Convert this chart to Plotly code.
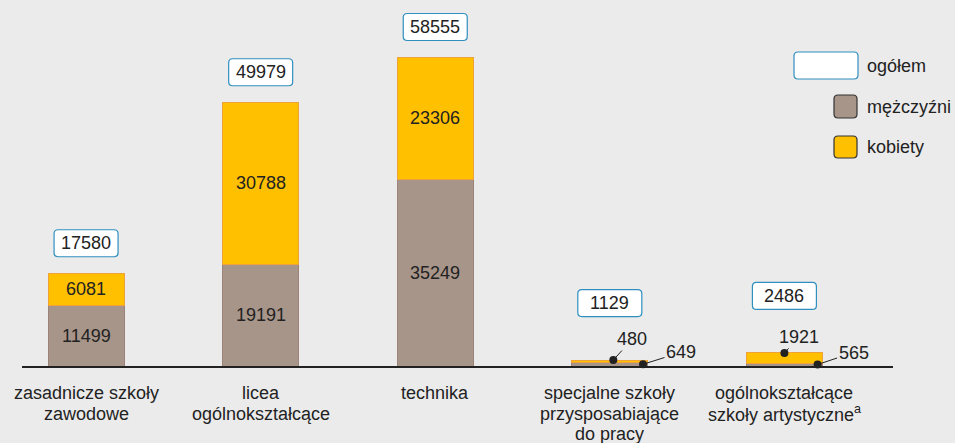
import plotly.graph_objects as go

categories = [
    "zasadnicze szkoły<br>zawodowe",
    "licea<br>ogólnokształcące",
    "technika",
    "specjalne szkoły<br>przysposabiające<br>do pracy",
    "ogólnokształcące<br>szkoły artystyczne<sup>a</sup>",
]
men = [11499, 19191, 35249, 649, 565]
women = [6081, 30788, 23306, 480, 1921]
totals = [17580, 49979, 58555, 1129, 2486]

# styling
FONT = "Liberation Sans, Arial, sans-serif"
TXT = "#222222"
GREY = "#a89589"
GREY_EDGE = "#9c8379"
YELLOW = "#ffc000"
YELLOW_EDGE = "#f0a23a"
BLUE = "#2f8fbf"
BG = "#ebebeb"

L, R, T, B = 22, 62, 10, 77
W, H = 955, 443
PW, PH = W - L - R, H - T - B

xs = list(range(len(categories)))
big = [t > 10000 for t in totals]

fig = go.Figure()
fig.add_trace(go.Bar(
    x=xs, y=men, name="mężczyźni", width=0.435,
    marker=dict(color=GREY, line=dict(color=GREY_EDGE, width=1)),
    hoverinfo="skip",
))
fig.add_trace(go.Bar(
    x=xs, y=women, name="kobiety", width=0.435,
    marker=dict(color=YELLOW, line=dict(color=YELLOW_EDGE, width=1)),
    hoverinfo="skip",
))


def rounded_px(x0, y0, x1, y1, r):
    return (f"M {x0+r},{y0} L {x1-r},{y0} Q {x1},{y0} {x1},{y0+r} "
            f"L {x1},{y1-r} Q {x1},{y1} {x1-r},{y1} L {x0+r},{y1} "
            f"Q {x0},{y1} {x0},{y1-r} L {x0},{y0+r} Q {x0},{y0} {x0+r},{y0} Z")


shapes = []
annotations = []

# value labels inside the large bars
for i in xs:
    if big[i]:
        annotations.append(dict(x=i, y=men[i] / 2, xref="x", yref="y", text=str(men[i]),
                                showarrow=False, font=dict(size=18, color=TXT, family=FONT)))
        annotations.append(dict(x=i, y=men[i] + women[i] / 2, xref="x", yref="y",
                                text=str(women[i]), showarrow=False,
                                font=dict(size=18, color=TXT, family=FONT)))

# total boxes
for i, t in enumerate(totals):
    off = 30 if big[i] else 57
    shapes.append(dict(
        type="path", xref="x", yref="y", xsizemode="pixel", ysizemode="pixel",
        xanchor=i, yanchor=t,
        path=rounded_px(-32, off - 13.5, 32, off + 13.5, 4),
        fillcolor="white", line=dict(color=BLUE, width=1.2), layer="above",
    ))
    annotations.append(dict(
        x=i, y=t, xref="x", yref="y", text=str(t), showarrow=False,
        yshift=off, font=dict(size=18, color=TXT, family=FONT),
    ))

# callouts for small bars
callouts = [
    # (category index, x offset in category units, y value, label, ax, ay)
    (3, 0.02, men[3] + women[3], women[3], 19, -21),
    (3, 0.19, men[3] * 0.5, men[3], 38, -12),
    (4, 0.0, men[4] + women[4], women[4], 15, -16),
    (4, 0.19, men[4] * 0.5, men[4], 36, -12),
]
for ci, dx, yv, lab, ax, ay in callouts:
    annotations.append(dict(
        x=ci + dx, y=yv, xref="x", yref="y", text=str(lab),
        showarrow=True, arrowhead=6, arrowsize=2.0, arrowwidth=1, arrowcolor=TXT,
        ax=ax, ay=ay, standoff=0, font=dict(size=18, color=TXT, family=FONT),
    ))

# category labels (one annotation per line for tighter line spacing)
for i, cat in enumerate(categories):
    for k, line in enumerate(cat.split("<br>")):
        annotations.append(dict(
            x=i, y=0, xref="x", yref="y", text=line, showarrow=False,
            yanchor="middle", yshift=-(27 + 20.5 * k),
            font=dict(size=18, color=TXT, family=FONT),
        ))


# custom legend (paper coords)
def px2paper(px, py):
    return (px - L) / PW, (T + PH - py) / PH


def rounded_paper(px0, py0, px1, py1, r):
    x0, y1 = px2paper(px0, py0)
    x1, y0 = px2paper(px1, py1)
    rx, ry = r / PW, r / PH
    return (f"M {x0+rx},{y0} L {x1-rx},{y0} Q {x1},{y0} {x1},{y0+ry} "
            f"L {x1},{y1-ry} Q {x1},{y1} {x1-rx},{y1} L {x0+rx},{y1} "
            f"Q {x0},{y1} {x0},{y1-ry} L {x0},{y0+ry} Q {x0},{y0} {x0+rx},{y0} Z")


legend_items = [
    ("ogółem", "white", BLUE, 794, 52, 858, 79, 65.5),
    ("mężczyźni", GREY, "#333333", 834, 95, 857, 118, 106.5),
    ("kobiety", YELLOW, "#333333", 834, 136, 857, 158, 147),
]
for lab, fc, lc, a, b, c, d, yc in legend_items:
    shapes.append(dict(type="path", xref="paper", yref="paper",
                       path=rounded_paper(a, b, c, d, 4),
                       fillcolor=fc, line=dict(color=lc, width=1.2)))
    tx, ty = px2paper(865, yc)
    annotations.append(dict(x=tx, y=ty, xref="paper", yref="paper", text=lab,
                            showarrow=False, xanchor="left", yanchor="middle",
                            font=dict(size=18, color=TXT, family=FONT)))

ymax = PH / (309 / 58555)

fig.update_layout(
    width=W, height=H, barmode="stack", showlegend=False,
    margin=dict(l=L, r=R, t=T, b=B, autoexpand=False),
    paper_bgcolor=BG, plot_bgcolor=BG,
    font=dict(family=FONT, size=18, color=TXT),
    xaxis=dict(range=[-0.367, 4.622], tickmode="array", tickvals=xs,
               showticklabels=False, ticks="",
               showgrid=False, zeroline=False, showline=True, linecolor="#222222",
               linewidth=1.5, automargin=False, fixedrange=True),
    yaxis=dict(range=[0, ymax], visible=False, fixedrange=True, automargin=False),
    shapes=shapes, annotations=annotations,
)

fig.write_html(
    "out.html",
    config={"displayModeBar": False},
    post_script="document.body.style.margin='0';document.body.style.overflow='hidden';",
)
